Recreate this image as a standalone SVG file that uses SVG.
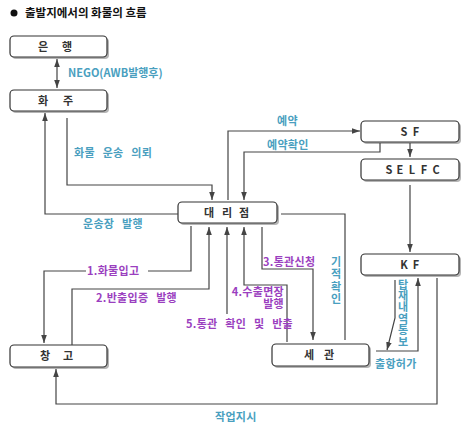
<svg xmlns="http://www.w3.org/2000/svg" width="471" height="432" viewBox="0 0 471 432">
<style>
text{font-family:"Noto Sans CJK KR","Noto Sans",sans-serif;font-weight:bold;font-size:11px}
.title{font-size:11.5px;fill:#111}
.box{fill:#fff;stroke:#333;stroke-width:1.2}
.sh{fill:#b5b5b5}
.bt{fill:#333;text-anchor:middle;font-size:11px}
.lt{fill:#4a9fbf;word-spacing:5px;letter-spacing:0.3px}
.lp{fill:#9b3fbf;word-spacing:5px;letter-spacing:0.3px}
.v{writing-mode:vertical-rl;text-orientation:upright}
.c path,.c line{fill:none;stroke:#444;stroke-width:1.2}
</style>
<defs>
<marker id="ah" viewBox="0 0 10 10" refX="10" refY="5" markerWidth="8" markerHeight="8" markerUnits="userSpaceOnUse" orient="auto-start-reverse">
<path d="M0,1.5 L10,5 L0,8.5 z" fill="#444"/>
</marker>
</defs>
<rect width="471" height="432" fill="#fff"/>
<g id="title">
<circle cx="14" cy="13" r="3.5" fill="#111"/>
<text class="title" x="25" y="17">출발지에서의 화물의 흐름</text>
</g>
<g id="bank"><rect class="sh" x="12" y="38" width="97" height="21" rx="4"/><rect class="box" x="10" y="36" width="97" height="21" rx="4"/><text class="bt" x="43 67" y="51">은행</text></g>
<g id="shipper"><rect class="sh" x="12" y="92" width="97" height="21" rx="4"/><rect class="box" x="10" y="90" width="97" height="21" rx="4"/><text class="bt" x="43 68" y="105">화주</text></g>
<g id="agent"><rect class="sh" x="180" y="204" width="99" height="21" rx="4"/><rect class="box" x="178" y="202" width="99" height="21" rx="4"/><text class="bt" x="209 227 244" y="217">대리점</text></g>
<g id="sf"><rect class="sh" x="363" y="123" width="98" height="21" rx="4"/><rect class="box" x="361" y="121" width="98" height="21" rx="4"/><text class="bt" x="404 416" y="135.5">SF</text></g>
<g id="selfc"><rect class="sh" x="363" y="161" width="98" height="21" rx="4"/><rect class="box" x="361" y="159" width="98" height="21" rx="4"/><text class="bt" x="389 400 412 424 436" y="173.5">SELFC</text></g>
<g id="kf"><rect class="sh" x="363" y="256" width="98" height="21" rx="4"/><rect class="box" x="361" y="254" width="98" height="21" rx="4"/><text class="bt" x="404 416" y="268.5">KF</text></g>
<g id="warehouse"><rect class="sh" x="12" y="347" width="97" height="22" rx="4"/><rect class="box" x="10" y="345" width="97" height="22" rx="4"/><text class="bt" x="45 68" y="360">창고</text></g>
<g id="customs"><rect class="sh" x="274" y="346" width="97" height="22" rx="4"/><rect class="box" x="272" y="344" width="97" height="22" rx="4"/><text class="bt" x="309 329" y="359">세관</text></g>
<g id="connectors" class="c">
<line x1="57" y1="59" x2="57" y2="88" marker-start="url(#ah)" marker-end="url(#ah)"/>
<path d="M67,118 V185 H212 V200" marker-end="url(#ah)"/>
<path d="M178,214 H45 V113" marker-end="url(#ah)"/>
<path d="M228,200 V131 H360" marker-end="url(#ah)"/>
<path d="M380,143 V152 H244 V200" marker-end="url(#ah)"/>
<path d="M410,143 V157" marker-end="url(#ah)"/>
<path d="M410,185 V252" marker-end="url(#ah)"/>
<path d="M281,214 H345 V340"/>
<path d="M191,226 V271 H148"/>
<path d="M86,271 H44 V343" marker-end="url(#ah)"/>
<path d="M72,345 V289 H209 V227" marker-end="url(#ah)"/>
<path d="M227,314 V227" marker-end="url(#ah)"/>
<path d="M287,342 V285 H244 V227" marker-end="url(#ah)"/>
<path d="M262,227 V269 H313 V340" marker-end="url(#ah)"/>
<path d="M395,280 V318 L387,350" marker-end="url(#ah)"/>
<path d="M376,351 H418 V278" marker-end="url(#ah)"/>
<path d="M437,278 V404 H56 V369" marker-end="url(#ah)"/>
</g>
<g id="labels">
<text class="lt" x="68" y="77" style="word-spacing:0;letter-spacing:0">NEGO(AWB발행후)</text>
<text class="lt" x="74" y="157">화물 운송 의뢰</text>
<text class="lt" x="83" y="228">운송장 발행</text>
<text class="lt" x="277" y="125">예약</text>
<text class="lt" x="267" y="149">예약확인</text>
<text class="lt v" x="336" y="256" style="letter-spacing:1.5px">기적확인</text>
<text class="lt v" x="403" y="279" style="letter-spacing:0.4px">탑재내역통보</text>
<text class="lt" x="375" y="368">출항허가</text>
<text class="lt" x="215" y="421">작업지시</text>
<text class="lp" x="87" y="275">1.화물입고</text>
<text class="lp" x="96" y="302">2.반출입증 발행</text>
<text class="lp" x="263" y="266">3.통관신청</text>
<text class="lp" text-anchor="end"><tspan x="284" y="296">4.수출면장</tspan><tspan x="284" y="308">발행</tspan></text>
<text class="lp" x="186" y="328">5.통관 확인 및 반출</text>
</g>
</svg>
